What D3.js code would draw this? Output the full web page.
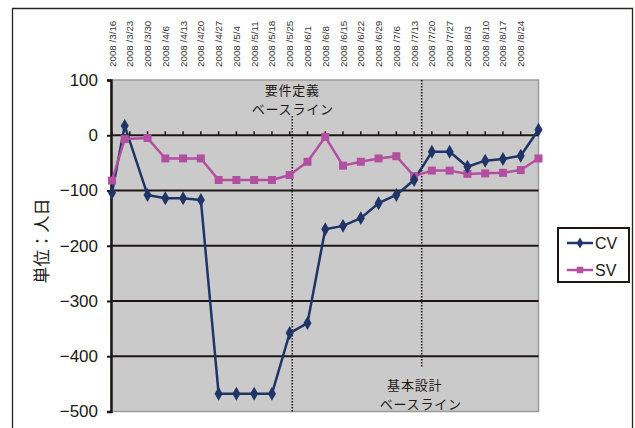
<!DOCTYPE html>
<html>
<head>
<meta charset="utf-8">
<script src="https://cdn.jsdelivr.net/npm/d3@7"></script>
<style>
  html, body { margin: 0; padding: 0; background: #fff; }
  svg { display: block; }
</style>
</head>
<body>
<svg id="chart" width="635" height="428"></svg>
<script>
// Observation dates (weekly, plus one mid-week reading)
const dates = ["2008-03-16","2008-03-21","2008-03-30","2008-04-06","2008-04-13","2008-04-20",
  "2008-04-27","2008-05-04","2008-05-11","2008-05-18","2008-05-25","2008-06-01","2008-06-08",
  "2008-06-15","2008-06-22","2008-06-29","2008-07-06","2008-07-13","2008-07-20","2008-07-27",
  "2008-08-03","2008-08-10","2008-08-17","2008-08-24","2008-08-31"];

// Cost variance and schedule variance (person-days)
const cv = [-104, 17, -108, -114, -114, -117, -468, -468, -468, -468, -358, -340, -170,
  -164, -150, -123, -108, -81, -30, -30, -57, -46, -43, -37, 10];
const sv = [-82, -7, -5, -42, -42, -42, -81, -81, -81, -81, -72, -48, -3,
  -55, -48, -42, -38, -74, -64, -64, -70, -69, -68, -63, -42];

// Weekly tick dates along the top
const tickDates = ["2008-03-16","2008-03-23","2008-03-30","2008-04-06","2008-04-13","2008-04-20",
  "2008-04-27","2008-05-04","2008-05-11","2008-05-18","2008-05-25","2008-06-01","2008-06-08",
  "2008-06-15","2008-06-22","2008-06-29","2008-07-06","2008-07-13","2008-07-20","2008-07-27",
  "2008-08-03","2008-08-10","2008-08-17","2008-08-24"];
const yTicks = [100, 0, -100, -200, -300, -400, -500];

// Baseline markers
const baselines = [
  { date: "2008-05-26", lines: ["要件定義", "ベースライン"] },
  { date: "2008-07-16", lines: ["基本設計", "ベースライン"] }
];

const seriesNames = ["CV", "SV"];
const colors = { CV: "#1f3567", SV: "#b24fa0" };

const parse = d3.utcParse("%Y-%m-%d");
const svg = d3.select("#chart");

const plot = { left: 111, right: 538.5, top: 80, bottom: 411.5 };

const x = d3.scaleUtc()
  .domain([parse("2008-03-16"), parse("2008-08-31")])
  .range([plot.left + 1, plot.right]);
const y = d3.scaleLinear().domain([-500, 100]).range([plot.bottom, plot.top]);

// Outer frame
svg.append("path")
  .attr("d", `M12.5,428 V8.5 H632.5 V428`)
  .attr("fill", "none").attr("stroke", "#2b2220").attr("stroke-width", 1.3);

// Plot background
svg.append("rect")
  .attr("x", plot.left).attr("y", plot.top)
  .attr("width", plot.right - plot.left).attr("height", plot.bottom - plot.top)
  .attr("fill", "#cacaca").attr("stroke", "#9a9a9a").attr("stroke-width", 1.5);

// Horizontal gridlines
svg.append("g").selectAll("line")
  .data(yTicks.filter(v => v < 100 && v > -500))
  .join("line")
  .attr("x1", plot.left).attr("x2", plot.right)
  .attr("y1", d => y(d)).attr("y2", d => y(d))
  .attr("stroke", "#1e1614").attr("stroke-width", 2);

// Week ticks on the zero line
svg.append("g").selectAll("line")
  .data(tickDates)
  .join("line")
  .attr("x1", d => x(parse(d))).attr("x2", d => x(parse(d)))
  .attr("y1", y(0)).attr("y2", y(0) - 4)
  .attr("stroke", "#1e1614").attr("stroke-width", 1.5);

// Left axis
const yAxis = d3.axisLeft(y).tickValues(yTicks).tickSize(4)
  .tickFormat(d => d < 0 ? "\u2212" + Math.abs(d) : String(d));
const gy = svg.append("g").attr("transform", `translate(${plot.left},0)`).call(yAxis);
gy.select(".domain").attr("stroke", "#1e1614").attr("stroke-width", 2.5);
gy.selectAll(".tick line").attr("stroke", "#1e1614").attr("stroke-width", 2);
gy.selectAll(".tick text")
  .attr("x", -13)
  .attr("fill", "#231815")
  .style("font-family", "'Liberation Sans', Arial, sans-serif")
  .style("font-size", "17px");

// Rotated date labels
svg.append("g").selectAll("text")
  .data(tickDates)
  .join("text")
  .attr("transform", d => `translate(${x(parse(d)) + 3.5},67) rotate(-90)`)
  .attr("text-anchor", "start")
  .attr("fill", "#333")
  .style("font-family", "'Liberation Sans', Arial, sans-serif")
  .style("font-size", "9.8px")
  .text(d => { const t = parse(d); return `${t.getUTCFullYear()} /${t.getUTCMonth() + 1}/${t.getUTCDate()}`; });

// Y axis title
svg.append("text")
  .attr("transform", "translate(48,241) rotate(-90)")
  .attr("text-anchor", "middle")
  .attr("fill", "#231815")
  .style("font-family", "'Noto Sans CJK JP', sans-serif")
  .style("font-size", "17px")
  .text("単位：人日");

// Baseline dotted lines and captions
const fontJP = "'Noto Sans CJK JP', sans-serif";
const b0 = x(parse(baselines[0].date));
const b1 = x(parse(baselines[1].date));
svg.append("line")
  .attr("x1", b0).attr("x2", b0).attr("y1", 116).attr("y2", plot.bottom)
  .attr("stroke", "#1e1614").attr("stroke-width", 1.6).attr("stroke-dasharray", "1.5,1.5");
svg.append("line")
  .attr("x1", b1).attr("x2", b1).attr("y1", plot.top).attr("y2", 367)
  .attr("stroke", "#1e1614").attr("stroke-width", 1.6).attr("stroke-dasharray", "1.5,1.5");

// Each caption line is its own text element
const captionPos = [
  [{ dx: 0, y: 95 }, { dx: 0.5, y: 114 }],
  [{ dx: -7, y: 390 }, { dx: -1, y: 409 }]
];
baselines.forEach((b, i) => {
  const bx = x(parse(b.date));
  b.lines.forEach((txt, j) => {
    svg.append("text")
      .attr("x", bx + captionPos[i][j].dx)
      .attr("y", captionPos[i][j].y)
      .attr("text-anchor", "middle")
      .attr("fill", "#231815")
      .style("font-family", fontJP)
      .style("font-size", "13px")
      .style("letter-spacing", "0.8px")
      .text(txt);
  });
});

// Series
const rows = dates.map((d, i) => ({ t: parse(d), CV: cv[i], SV: sv[i] }));
const diamond = d3.symbol().type(d3.symbolDiamond).size(56);
const square = d3.symbol().type(d3.symbolSquare).size(64);

seriesNames.forEach(name => {
  const line = d3.line().x(d => x(d.t)).y(d => y(d[name]));
  svg.append("path")
    .datum(rows)
    .attr("d", line)
    .attr("fill", "none")
    .attr("stroke", colors[name])
    .attr("stroke-width", 2.5)
    .attr("stroke-linejoin", "round");
});
// SV first so CV diamonds are visible where they cross
["SV", "CV"].forEach(name => {
  svg.append("g").selectAll("path")
    .data(rows)
    .join("path")
    .attr("transform", d => `translate(${x(d.t)},${y(d[name])})`)
    .attr("d", name === "CV" ? diamond : square)
    .attr("fill", colors[name]);
});

// Legend
const legendDiamond = d3.symbol().type(d3.symbolDiamond).size(36);
const legendSquare = d3.symbol().type(d3.symbolSquare).size(42);
const lg = svg.append("g");
lg.append("rect").attr("x", 558).attr("y", 228).attr("width", 71).attr("height", 54)
  .attr("fill", "#fff").attr("stroke", "#1e1614").attr("stroke-width", 2);
seriesNames.forEach((name, i) => {
  const yy = 243 + i * 27;
  lg.append("line").attr("x1", 567).attr("x2", 593).attr("y1", yy).attr("y2", yy)
    .attr("stroke", colors[name]).attr("stroke-width", 2.5);
  lg.append("path").attr("transform", `translate(580,${yy})`)
    .attr("d", name === "CV" ? legendDiamond : legendSquare).attr("fill", colors[name]);
  lg.append("text").attr("x", 595).attr("y", yy + 6)
    .attr("fill", "#231815")
    .style("font-family", "'Liberation Sans', Arial, sans-serif")
    .style("font-size", "16px")
    .text(name);
});
</script>
</body>
</html>
